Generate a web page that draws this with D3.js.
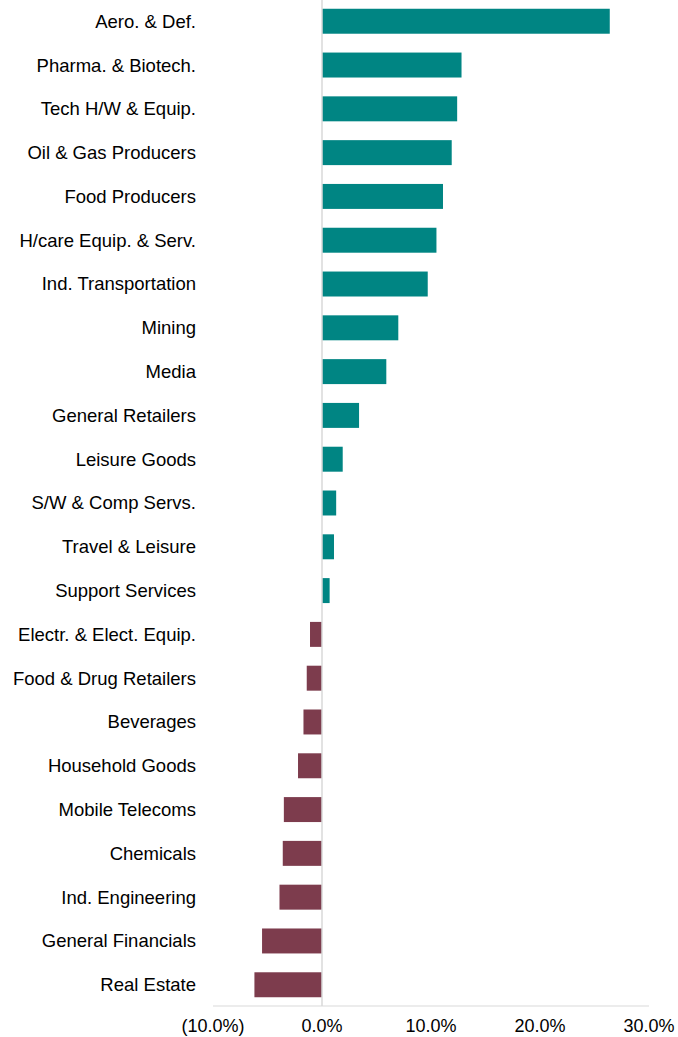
<!DOCTYPE html>
<html lang="en">
<head>
<meta charset="utf-8" />
<title>Sector returns</title>
<script src="https://d3js.org/d3.v7.min.js"></script>
<style>
  body { margin: 0; background: #fff; }
  text { font-family: "Liberation Sans", Arial, sans-serif; fill: #000; }
</style>
</head>
<body>
<svg id="chart" width="678" height="1037"></svg>
<script>
// sector names, top to bottom
const sectors = [
  "Aero. & Def.", "Pharma. & Biotech.", "Tech H/W & Equip.", "Oil & Gas Producers",
  "Food Producers", "H/care Equip. & Serv.", "Ind. Transportation", "Mining", "Media",
  "General Retailers", "Leisure Goods", "S/W & Comp Servs.", "Travel & Leisure",
  "Support Services", "Electr. & Elect. Equip.", "Food & Drug Retailers", "Beverages",
  "Household Goods", "Mobile Telecoms", "Chemicals", "Ind. Engineering",
  "General Financials", "Real Estate"
];
// returns in %
const returns = [
  26.4, 12.8, 12.4, 11.9, 11.1, 10.5, 9.7, 7.0, 5.9,
  3.4, 1.9, 1.3, 1.1, 0.7, -1.1, -1.4, -1.7,
  -2.2, -3.5, -3.6, -3.9, -5.5, -6.2
];
const ticks = [-10, 0, 10, 20, 30];

const svg = d3.select("#chart");
const x = d3.scaleLinear().domain([-10, 30]).range([213, 649]);
const y = d3.scaleBand().domain(sectors).range([0, 1006]).paddingInner(0.43).paddingOuter(0.2);

const rows = sectors.map((s, i) => ({ name: s, value: returns[i] }));

svg.selectAll("rect.bar")
  .data(rows)
  .enter()
  .append("rect")
  .attr("class", "bar")
  .attr("x", d => x(Math.min(0, d.value)))
  .attr("width", d => Math.abs(x(d.value) - x(0)))
  .attr("y", d => y(d.name))
  .attr("height", y.bandwidth())
  .attr("fill", d => d.value >= 0 ? "#008583" : "#7d3c4d");

// zero line
svg.append("line")
  .attr("x1", x(0)).attr("x2", x(0))
  .attr("y1", 0).attr("y2", 1006)
  .attr("stroke", "#d9d9d9").attr("stroke-width", 1.5);

// bottom axis line
svg.append("line")
  .attr("x1", x(-10)).attr("x2", x(30))
  .attr("y1", 1006).attr("y2", 1006)
  .attr("stroke", "#d9d9d9").attr("stroke-width", 1);

// category labels
svg.selectAll("text.cat")
  .data(rows)
  .enter()
  .append("text")
  .attr("class", "cat")
  .attr("x", 196)
  .attr("y", d => y(d.name) + y.bandwidth() / 2)
  .attr("dy", "0.35em")
  .attr("text-anchor", "end")
  .style("font-size", "18.5px")
  .text(d => d.name);

// tick labels
const fmt = v => v < 0 ? "(" + Math.abs(v).toFixed(1) + "%)" : v.toFixed(1) + "%";
svg.selectAll("text.tick")
  .data(ticks)
  .enter()
  .append("text")
  .attr("class", "tick")
  .attr("x", d => x(d))
  .attr("y", 1032)
  .attr("text-anchor", "middle")
  .style("font-size", "18px")
  .text(fmt);
</script>
</body>
</html>
